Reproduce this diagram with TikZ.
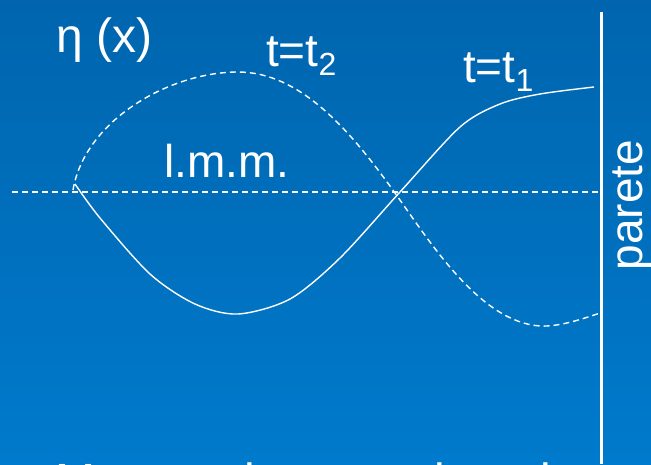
\documentclass[tikz,border=0pt]{standalone}
\usepackage{fontspec}
\setmainfont{Liberation Sans}
\definecolor{bgtop}{RGB}{0,101,174}
\definecolor{bgbot}{RGB}{0,122,204}
\begin{document}
\begin{tikzpicture}[x=1pt,y=-1pt,
  lbl/.style={text=white, inner sep=0pt, anchor=base west, font=\fontsize{46}{52}\selectfont},
  wave/.style={white, line width=1.4pt},
  wavedash/.style={wave, dash pattern=on 6pt off 4pt},
  wall/.style={white, line width=3pt}]
\shade[top color=bgtop, bottom color=bgbot] (0,0) rectangle (651,464);
\useasboundingbox (0,0) rectangle (651,464);
% wall
\coordinate (walltop) at (601,12);
\coordinate (wallbot) at (601,464);
\draw[wall] (walltop) -- (wallbot);
% mean water level
\coordinate (lmmL) at (12,192);
\coordinate (lmmR) at (600,192);
\draw[wavedash] (lmmL) -- (lmmR);
% t = t1 (solid)
\draw[wave] plot[smooth] coordinates {(75,184) (100,218) (150,274) (195,304) (238,314) (290,299) (340,258) (400,192) (460,127) (500,104) (540,94) (594,87)};
% t = t2 (dashed)
\coordinate (d0) at (73,190);
\coordinate (d1) at (238,72);
\coordinate (d2) at (395,193);
\coordinate (d3) at (540,326);
\coordinate (d4) at (600,313);
\draw[wavedash] (d0) .. controls (85,120) and (170,72) .. (d1)
  .. controls (300,72) and (350,130) .. (d2)
  .. controls (430,242) and (480,322) .. (d3)
  .. controls (560,327) and (585,318) .. (d4);
% labels
\node[lbl, font=\fontsize{48}{52}\selectfont] (eta) at (56,52) {η (x)};
\node[lbl] (tt2) at (266,66) {t=t{\fontsize{32}{34}\selectfont\raisebox{-0.3em}{2}}};
\node[lbl] (tt1) at (463,82) {t=t{\fontsize{32}{34}\selectfont\raisebox{-0.3em}{1}}};
\node[lbl] (lmm) at (164,177) {l.m.m.};
\node[lbl, anchor=base, rotate=90] (parete) at (642,205) {parete};
\begin{scope}
\clip (0,0) rectangle (651,464);
\node[lbl, font=\fontsize{48}{56}\selectfont] (title) at (55,497) {Moto ondoso stazionario};
\end{scope}
\end{tikzpicture}
\end{document}
